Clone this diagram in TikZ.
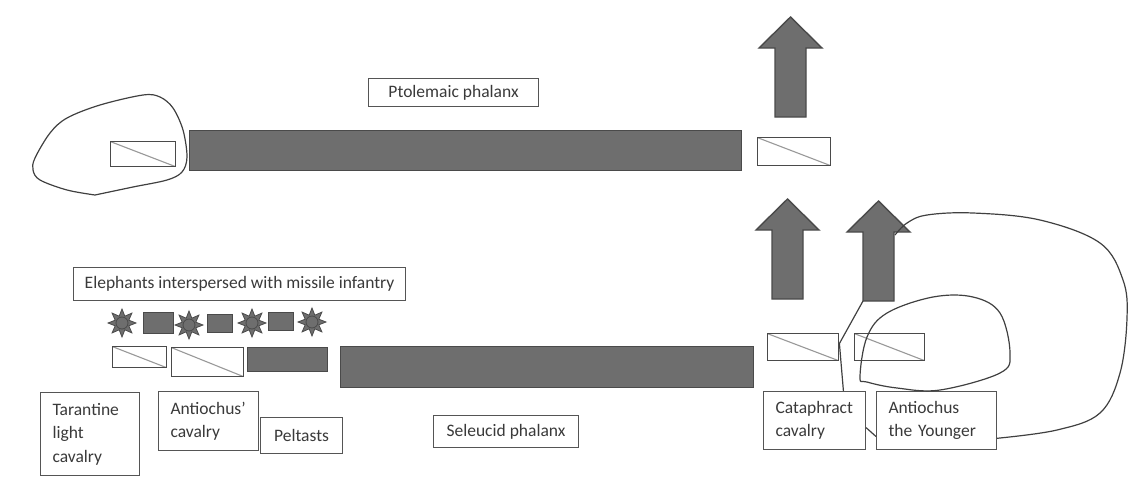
\documentclass[tikz,border=0pt]{standalone}
\usepackage{fontspec}
\setmainfont{Carlito}
\usetikzlibrary{shapes.geometric,calc}
\definecolor{barfill}{HTML}{6E6E6E}
\definecolor{barline}{HTML}{4A4A4A}
\definecolor{boxline}{HTML}{555555}
\definecolor{diagline}{HTML}{999999}
\definecolor{txt}{HTML}{3A3A3A}
\definecolor{loopline}{HTML}{404040}
\tikzset{
  lbl/.style={draw=boxline, line width=1.1pt, fill=white, text=txt,
    font=\fontsize{17.5}{23.5}\selectfont, align=left, inner xsep=12pt, inner ysep=0pt, anchor=north west},
  lblc/.style={draw=boxline, line width=1.1pt, fill=white, text=txt,
    font=\fontsize{17.5}{23.5}\selectfont, align=center, inner sep=0pt, anchor=north west},
  bar/.style={draw=barline, fill=barfill, line width=1.4pt, inner sep=0pt, anchor=north west},
  dbox/.style={draw=barline, line width=1.4pt, fill=white, inner sep=0pt, anchor=north west,
    path picture={\draw[diagline, line width=1.1pt] (path picture bounding box.north west) -- (path picture bounding box.south east);}},
  eleph/.style={star, star points=8, star point ratio=1.9, minimum size=28pt, inner sep=0pt,
    fill=barfill, draw=barline, line width=0.8pt},
  loopy/.style={draw=loopline, line width=1.2pt},
  uparrow/.pic={
    \filldraw[draw=barline, fill=barfill, line width=1.4pt]
      (-15.5,0) coordinate (-bl) -- (-15.5,-69) -- (-31.5,-69) coordinate (-hl) -- (0,-100) coordinate (-tip)
      -- (31.5,-69) coordinate (-hr) -- (15.5,-69) -- (15.5,0) coordinate (-br) -- cycle;
  }
}
\begin{document}
\begin{tikzpicture}[x=1pt,y=-1pt]
\useasboundingbox (0,0) rectangle (1147,485);

% top row
\node[lblc, minimum width=170pt, minimum height=28pt] (ptoltxt) at (368,78) {Ptolemaic phalanx};
\node[bar, minimum width=552pt, minimum height=40pt] (ptolbar) at (189,130) {};
\node[dbox, minimum width=65pt, minimum height=25pt] (ptolleft) at (110,141) {};
\node[dbox, minimum width=73pt, minimum height=28pt] (ptolright) at (757,137) {};
\draw[loopy] plot[smooth, tension=0.55] coordinates {(95,195) (67,190) (40,180) (33,170) (35,158) (50,133) (67,118) (100,105) (143,95) (160,97) (173,108) (183,130) (187,157) (182,172) (167,180) (133,187) (95,195)};

% arrows
\pic (a0) at (790.5,117) {uparrow};
\pic (a1) at (787.5,299) {uparrow};
\pic (a2) at (878.5,301) {uparrow};

% elephants
\node[lblc, minimum width=332pt, minimum height=33pt] (eleph) at (73,267) {Elephants interspersed with missile infantry};
\node[eleph] (e1) at (122,323) {};
\node[eleph] (e2) at (189,325) {};
\node[eleph] (e3) at (252,323) {};
\node[eleph] (e4) at (312,322) {};
\foreach \e in {e1,e2,e3,e4} \draw[barline, fill=barfill, line width=0.8pt] (\e) circle (6);
\node[bar, minimum width=30pt, minimum height=21pt] (m1) at (143,312) {};
\node[bar, minimum width=25pt, minimum height=18pt] (m2) at (207,314) {};
\node[bar, minimum width=25pt, minimum height=18pt] (m3) at (268,312) {};

% Seleucid line
\node[dbox, minimum width=54pt, minimum height=21pt] (tarr) at (112,346) {};
\node[dbox, minimum width=72pt, minimum height=29pt] (antr) at (171,347) {};
\node[bar, minimum width=80pt, minimum height=24pt] (pelr) at (247,347) {};
\node[bar, minimum width=413pt, minimum height=41pt] (selbar) at (340,346) {};
\node[dbox, minimum width=71pt, minimum height=27pt] (catr) at (767,333) {};
\node[dbox, minimum width=70pt, minimum height=27pt] (ayr) at (854,333) {};

% labels
\node[lbl, text width=75pt, minimum height=83pt] (tar) at (40,392) {Tarantine\\light\\cavalry};
\node[lbl, text width=76pt, minimum height=59pt] (antc) at (158,391) {Antiochus’\\cavalry};
\node[lblc, minimum width=82pt, minimum height=36pt] (pel) at (260,417) {Peltasts};
\node[lblc, minimum width=145pt, minimum height=32pt] (seltxt) at (433,415) {Seleucid phalanx};
\node[lbl, text width=78pt, minimum height=58pt] (cat) at (763,391) {Cataphract\\cavalry};
\node[lbl, text width=96pt, minimum height=58pt] (ay) at (876,391) {Antiochus\\the Younger};

% connectors
\draw[loopy] (a2-bl) -- ($(catr.north east)!0.37!(catr.south east)$) -- ($(cat.north west)!0.78!(cat.north east)$);
\draw[loopy] ($(cat.north east)!0.62!(cat.south east)$) -- ($(ay.north west)!0.77!(ay.south west)$);
\draw[loopy] plot[smooth cycle, tension=0.6] coordinates {(860,377) (867,337) (887,313) (933,297) (973,297) (1000,313) (1010,353) (1000,373) (940,390) (897,388) (867,382)};
\draw[loopy] plot[smooth, tension=0.6] coordinates {(895,235) (907,223) (927,215) (973,213) (1040,220) (1100,243) (1123,280) (1127,318) (1120,373) (1100,413) (1057,430) ($(ay.north east)!0.8!(ay.south east)$)};
\end{tikzpicture}
\end{document}
